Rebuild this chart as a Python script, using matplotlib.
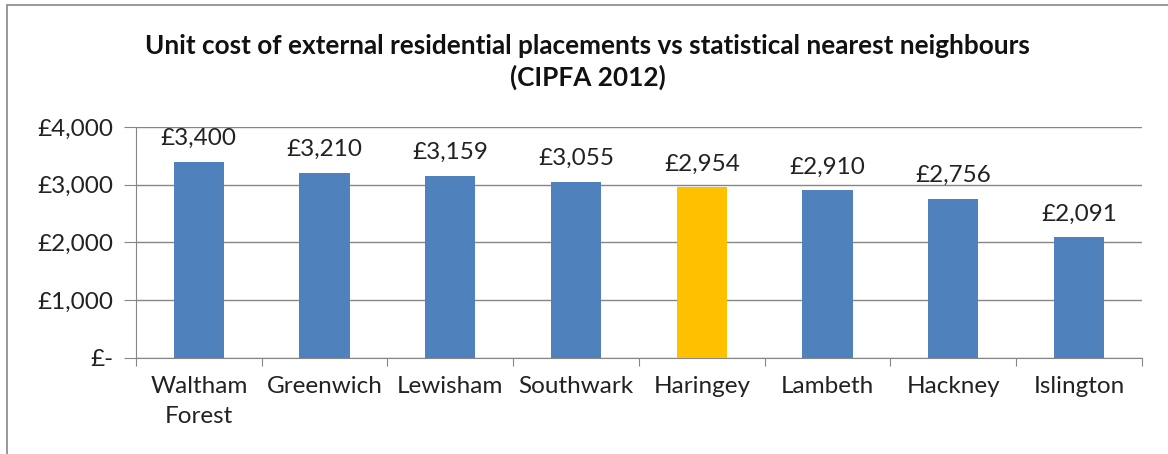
import matplotlib.pyplot as plt
from matplotlib.patches import Rectangle
from matplotlib.ticker import FuncFormatter

plt.rcParams['font.family'] = ['Lato', 'DejaVu Sans']

boroughs = ['Waltham\nForest', 'Greenwich', 'Lewisham', 'Southwark',
            'Haringey', 'Lambeth', 'Hackney', 'Islington']
unit_cost = [3400, 3210, 3159, 3055, 2954, 2910, 2756, 2091]
highlight = 'Haringey'

blue = '#4F81BD'
gold = '#FFC000'
grey = '#868686'

colors = [gold if b == highlight else blue for b in boroughs]

fig = plt.figure(figsize=(11.68, 4.54), dpi=100)
ax = fig.add_axes([0.1164, 0.2115, 0.8613, 0.5088])

x = range(len(boroughs))
bars = ax.bar(x, unit_cost, width=0.4, color=colors, zorder=3)

for xi, v in zip(x, unit_cost):
    ax.annotate('£{:,}'.format(v), (xi, v), xytext=(0, 9),
                textcoords='offset points', ha='center', va='bottom',
                fontsize=17.5, color='#222222')

ax.set_xlim(-0.5, len(boroughs) - 0.5)
ax.set_ylim(0, 4000)
ax.set_yticks([0, 1000, 2000, 3000, 4000])
ax.yaxis.set_major_formatter(FuncFormatter(
    lambda v, p: '£-' if v == 0 else '£{:,.0f}'.format(v)))
ax.grid(axis='y', color=grey, linewidth=1, zorder=0)

# category labels centred, ticks on category boundaries
ax.set_xticks([i - 0.5 for i in range(len(boroughs) + 1)])
ax.set_xticklabels([])
ax.set_xticks(list(x), minor=True)
ax.set_xticklabels(boroughs, minor=True, fontsize=17.5, color='#222222',
                   linespacing=1.55)
ax.tick_params(axis='x', which='minor', length=0, pad=13)
ax.tick_params(axis='x', which='major', length=6, color=grey)
ax.tick_params(axis='y', length=9, color=grey, labelsize=17.5,
               labelcolor='#222222', pad=7)

for s in ['top', 'right']:
    ax.spines[s].set_visible(False)
for s in ['left', 'bottom']:
    ax.spines[s].set_color(grey)

fig.text(0.503, 0.863,
         'Unit cost of external residential placements vs statistical nearest neighbours\n(CIPFA 2012)',
         ha='center', va='center', fontsize=18.8, fontweight='bold',
         color='#111111', linespacing=1.3)

# outer chart border (right and bottom edges fall outside the picture)
fig.patches.append(Rectangle((0.006, -0.05), 1.1, 1.04, transform=fig.transFigure,
                             fill=False, edgecolor=grey, linewidth=1.2))

fig.savefig('out.png', dpi=100)
